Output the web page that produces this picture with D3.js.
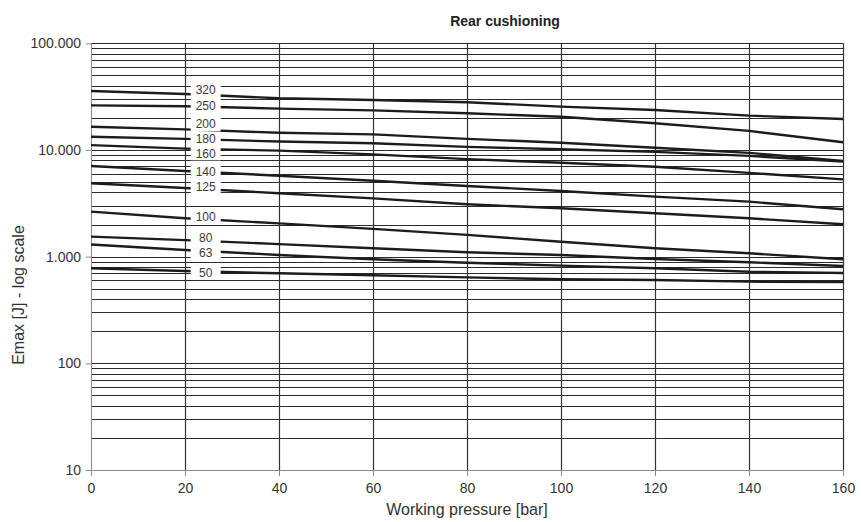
<!DOCTYPE html>
<html><head><meta charset="utf-8">
<script src="https://cdn.jsdelivr.net/npm/d3@7"></script>
<style>
body{margin:0;background:#fff;}
text{font-family:"Liberation Sans",Arial,Helvetica,sans-serif;}
</style>
</head><body>
<svg id="chart" width="861" height="522"></svg>
<script>
// ---- data ----
const pressures = [0, 20, 40, 60, 80, 100, 120, 140, 160];
const seriesNames = ["320", "250", "200", "180", "160", "140", "125", "100", "80", "63", "50"];
const e320 = [35700, 33500, 30500, 29400, 28000, 25500, 23700, 21000, 19500];
const e250 = [26200, 25700, 24400, 23500, 22100, 20500, 17800, 15100, 11800];
const e200 = [16500, 15600, 14500, 14000, 12700, 11700, 10500, 9400, 7900];
const e180 = [13300, 12700, 12000, 11550, 10700, 10150, 9600, 8800, 7770];
const e160 = [11100, 10300, 9850, 9100, 8200, 7600, 6970, 6100, 5300];
const e140 = [7080, 6350, 5740, 5150, 4600, 4130, 3650, 3280, 2780];
const e125 = [4870, 4400, 3930, 3520, 3100, 2840, 2550, 2290, 2010];
const e100 = [2640, 2290, 2050, 1820, 1600, 1380, 1200, 1075, 945];
const e80  = [1540, 1430, 1310, 1200, 1100, 1036, 951, 885, 817];
const e63  = [1300, 1155, 1036, 945, 878, 823, 778, 723, 703];
const e50  = [778, 734, 698, 669, 640, 613, 604, 583, 579];
const seriesValues = [e320, e250, e200, e180, e160, e140, e125, e100, e80, e63, e50];
const labelPressure = 24.4;
const labelEnergy = [36500, 25850, 17530, 12760, 9310, 6220, 4530, 2370, 1506, 1089, 707];
const xTickValues = [0, 20, 40, 60, 80, 100, 120, 140, 160];
const yTickValues = [10, 100, 1000, 10000, 100000];
const yTickLabels = ["10", "100", "1.000", "10.000", "100.000"];
const titleText = "Rear cushioning";
const xTitle = "Working pressure [bar]";
const yTitle = "Emax [J] - log scale";

// ---- layout ----
const L = 91, R = 843, T = 43.3, B = 470;
const svg = d3.select("#chart");
const x = d3.scaleLinear().domain([0, 160]).range([L, R]);
const y = d3.scaleLog().domain([10, 100000]).range([B, T]);

// minor/major horizontal grid
const gridVals = [];
for (let d = 10; d < 100000; d *= 10) {
  for (let k = 1; k <= 9; k++) if (!(d === 10 && k === 1)) gridVals.push(d * k);
}
gridVals.push(100000);
svg.append("g").selectAll("line").data(gridVals).join("line")
  .attr("x1", L).attr("x2", R)
  .attr("y1", d => Math.round(y(d)) + 0.5).attr("y2", d => Math.round(y(d)) + 0.5)
  .attr("stroke", "#2a2a2a").attr("stroke-width", 1);

// vertical grid
svg.append("g").selectAll("line").data(xTickValues.filter(v => v > 0)).join("line")
  .attr("x1", d => Math.round(x(d)) + 0.5).attr("x2", d => Math.round(x(d)) + 0.5)
  .attr("y1", T).attr("y2", B)
  .attr("stroke", "#333").attr("stroke-width", 1.2);

// axes
const xAxis = d3.axisBottom(x).tickValues(xTickValues).tickSize(6).tickPadding(7).tickFormat(d3.format("d"));
const gx = svg.append("g").attr("transform", `translate(0,${B})`).call(xAxis);
gx.select(".domain").attr("stroke", "#8a8a8a").attr("d", `M${L - 5},0.5H${R}`);
gx.selectAll(".tick line").attr("stroke", "#8a8a8a");
gx.selectAll(".tick text").attr("fill", "#333").attr("font-size", 14)
  .attr("font-family", "'Liberation Sans', Arial, sans-serif");

const yAxis = d3.axisLeft(y).tickValues(yTickValues).tickSize(5).tickPadding(5)
  .tickFormat((d, i) => yTickLabels[i]);
const gy = svg.append("g").attr("transform", `translate(${L},0)`).call(yAxis);
gy.select(".domain").attr("stroke", "#8a8a8a").attr("d", `M0.5,${T}V${B}`);
gy.selectAll(".tick line").attr("stroke", "#8a8a8a");
gy.selectAll(".tick text").attr("fill", "#333").attr("font-size", 14)
  .attr("font-family", "'Liberation Sans', Arial, sans-serif");

// data lines
const line = d3.line().x((d, i) => x(pressures[i])).y(d => y(d));
svg.append("g").selectAll("path").data(seriesValues).join("path")
  .attr("d", d => line(d))
  .attr("fill", "none").attr("stroke", "#1c1c1c").attr("stroke-width", 2.4);

// series labels
const lg = svg.append("g").selectAll("g").data(seriesNames).join("g")
  .attr("transform", (d, i) => `translate(${x(labelPressure)},${y(labelEnergy[i])})`);
lg.append("rect").attr("x", -15).attr("y", -7).attr("width", 30).attr("height", 14).attr("fill", "#fff");
lg.append("text").attr("text-anchor", "middle").attr("dy", "0.36em")
  .attr("font-size", 12).attr("fill", "#3a3a3a").text(d => d);

// titles
svg.append("text").attr("x", 505).attr("y", 26).attr("text-anchor", "middle")
  .attr("font-size", 14).attr("font-weight", "bold").attr("fill", "#222").text(titleText);
svg.append("text").attr("x", (L + R) / 2).attr("y", 515).attr("text-anchor", "middle")
  .attr("font-size", 16).attr("fill", "#333").text(xTitle);
svg.append("text").attr("transform", `translate(24,295) rotate(-90)`)
  .attr("text-anchor", "middle").attr("font-size", 16).attr("fill", "#333").text(yTitle);
</script>
</body></html>
